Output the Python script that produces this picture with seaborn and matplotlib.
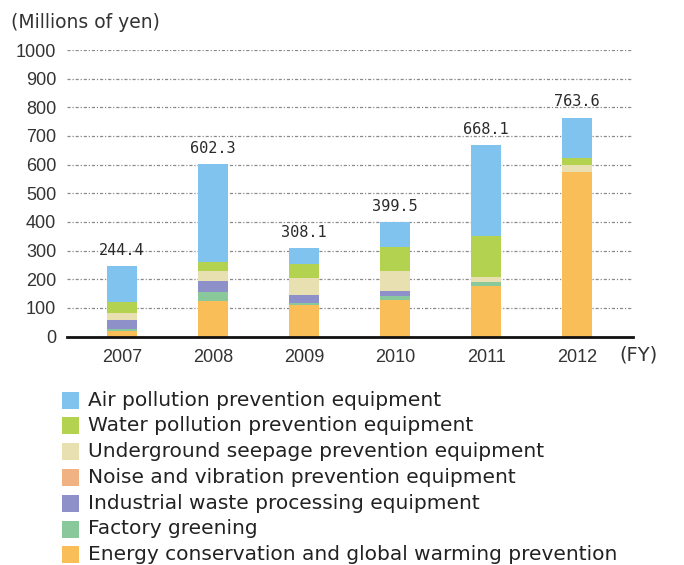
import matplotlib
matplotlib.use("Agg")
import matplotlib.pyplot as plt
from matplotlib.patches import Rectangle
import numpy as np
import pandas as pd
import seaborn as sns

# Environmental equipment investment by fiscal year (millions of yen)
years = ["2007", "2008", "2009", "2010", "2011", "2012"]
totals = [244.4, 602.3, 308.1, 399.5, 668.1, 763.6]

categories = [
    "Energy conservation and global warming prevention",
    "Factory greening",
    "Industrial waste processing equipment",
    "Noise and vibration prevention equipment",
    "Underground seepage prevention equipment",
    "Water pollution prevention equipment",
    "Air pollution prevention equipment",
]

energy = [20.1, 123.1, 109.6, 127.2, 176.3, 573.2]
greening = [6.6, 31.4, 7.9, 15.0, 14.3, 0.0]
waste = [30.1, 38.3, 28.4, 16.4, 0.0, 0.0]
noise = [0.0, 0.0, 0.0, 0.0, 0.0, 0.0]
seepage = [26.8, 34.8, 57.2, 70.7, 17.9, 26.6]
water = [36.8, 31.4, 51.3, 83.6, 143.3, 22.9]
air = [124.0, 343.3, 53.7, 86.6, 316.3, 140.9]

series = [energy, greening, waste, noise, seepage, water, air]
colors = ["#F9BE57", "#88C89A", "#8E91C9", "#F0B283",
          "#E9E0B2", "#B3D24F", "#7FC3EE"]

df = pd.DataFrame({"FY": years})
for name, vals in zip(categories, series):
    df[name] = vals

sns.set_theme(style="white")
plt.rcParams["font.family"] = ["DejaVu Sans"]

fig = plt.figure(figsize=(6.84, 5.65), dpi=100)
ax = fig.add_axes([0.0975, 0.4044, 0.8275, 0.5071])

# dash-dot horizontal grid behind the bars
for v in range(100, 1001, 100):
    ax.axhline(v, color="#8a8a8a", lw=0.9, ls=(0, (2.5, 1.5, 1, 1.5)), zorder=0)

bottom = np.zeros(len(years))
for name, col in zip(categories, colors):
    sns.barplot(data=df, x="FY", y=name, color=col, width=0.335,
                bottom=bottom, ax=ax, saturation=1, zorder=2,
                edgecolor=col, linewidth=0)
    bottom = bottom + df[name].to_numpy()

for i, t in enumerate(totals):
    ax.annotate(f"{t:.1f}", (i, t), xytext=(0, 6), textcoords="offset points",
                ha="center", va="bottom", fontsize=11,
                family="DejaVu Sans Mono", color="#2a2a2a", zorder=3)

ax.set_xlim(-0.607, 5.61)
ax.set_ylim(0, 1000)
ax.set_yticks(range(0, 1001, 100))
ax.set_xlabel("")
ax.set_ylabel("")
for s in ["left", "top", "right"]:
    ax.spines[s].set_visible(False)
ax.spines["bottom"].set_color("#111111")
ax.spines["bottom"].set_linewidth(2)
ax.tick_params(axis="y", length=0, pad=7.5, labelsize=13, labelcolor="#333333")
ax.tick_params(axis="x", length=0, pad=9, labelsize=13, labelcolor="#333333")
for lab in ax.get_xticklabels() + ax.get_yticklabels():
    lab.set_family("Liberation Sans")

fig.text(0.016, 0.961, "(Millions of yen)", fontsize=13.5, color="#333333",
         va="center", ha="left")
fig.text(0.905, 0.372, "(FY)", fontsize=14, color="#333333",
         va="center", ha="left")

# legend: top entry is the top of the stack
legend_order = list(zip(categories, colors))[::-1]
row0 = 400
step = 25.8
for k, (name, col) in enumerate(legend_order):
    yc = row0 + k * step
    fig.patches.append(Rectangle((62 / 684, 1 - (yc + 8.5) / 565), 17 / 684,
                                 17 / 565, transform=fig.transFigure,
                                 facecolor=col, edgecolor="none"))
    fig.text(88 / 684, 1 - yc / 565, name, fontsize=14.5, color="#222222",
             va="center", ha="left")

fig.savefig("out.png", dpi=100, facecolor="white")
